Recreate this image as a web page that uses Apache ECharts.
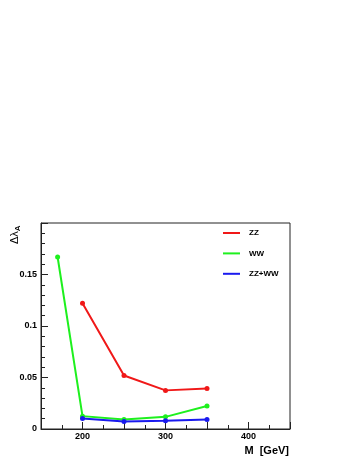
<!DOCTYPE html>
<html><head><meta charset="utf-8">
<script src="https://cdn.jsdelivr.net/npm/echarts@6/dist/echarts.min.js"></script>
<style>html,body{margin:0;padding:0;background:#fff}#c{width:358px;height:463px}</style>
</head><body><div id="c"></div>
<script>
const seriesNames = ['ZZ', 'WW', 'ZZ+WW'];
const zzX = [200, 250, 300, 350];
const zzY = [0.122, 0.052, 0.0375, 0.0394];
const wwX = [170, 200, 250, 300, 350];
const wwY = [0.167, 0.0125, 0.0092, 0.0118, 0.0224];
const bothX = [200, 250, 300, 350];
const bothY = [0.0102, 0.0073, 0.008, 0.0092];
const xLabels = [200, 300, 400];
const yLabels = [0, 0.05, 0.1, 0.15];
const colors = ['#f01818', '#1ef01e', '#1a1aef'];

const pair = (xs, ys) => xs.map((x, i) => [x, ys[i]]);
const font = 'Liberation Sans, Arial, sans-serif';
const chart = echarts.init(document.getElementById('c'), null, {renderer: 'canvas'});
const mk = (name, xs, ys, color) => ({
  name, type: 'line', data: pair(xs, ys), symbol: 'circle', symbolSize: 5,
  lineStyle: {color, width: 2}, itemStyle: {color}, animation: false
});
chart.setOption({
  animation: false,
  grid: {left: 41, top: 223, right: 68, bottom: 34, show: true, borderColor: '#222', borderWidth: 1},
  xAxis: {
    type: 'value', min: 150, max: 450, interval: 50,
    axisLine: {lineStyle: {color: '#222', width: 1}},
    axisTick: {inside: true, length: 7, lineStyle: {color: '#222'}},
    minorTick: {show: true, splitNumber: 2, length: 4, lineStyle: {color: '#222'}},
    splitLine: {show: false},
    axisLabel: {
      margin: 3, color: '#000', fontFamily: font, fontWeight: 'bold', fontSize: 9,
      formatter: v => xLabels.includes(v) ? String(v) : ''
    }
  },
  yAxis: {
    type: 'value', min: 0, max: 0.2, interval: 0.05,
    axisLine: {lineStyle: {color: '#222', width: 1}},
    axisTick: {inside: true, length: 7, lineStyle: {color: '#222'}},
    minorTick: {show: true, splitNumber: 5, length: 4, lineStyle: {color: '#222'}},
    splitLine: {show: false},
    axisLabel: {
      margin: 4, color: '#000', fontFamily: font, fontWeight: 'bold', fontSize: 9,
      formatter: v => {
        const m = yLabels.find(y => Math.abs(y - v) < 1e-9);
        return m === undefined ? '' : String(m);
      }
    }
  },
  legend: {
    orient: 'vertical', left: 223, top: 228, padding: 0, itemWidth: 17, itemHeight: 2, itemGap: 10.4,
    icon: 'rect', data: seriesNames,
    textStyle: {color: '#000', fontFamily: font, fontWeight: 'bold', fontSize: 8, lineHeight: 10, padding: [0, 0, 0, 4]}
  },
  graphic: [
    {type: 'text', x: 15, y: 244, rotation: Math.PI / 2,
     style: {text: '{a|Δλ}{b|A}', align: 'left', verticalAlign: 'middle',
       rich: {a: {fontFamily: font, fontSize: 11, fill: '#000'},
              b: {fontFamily: font, fontSize: 8, fontWeight: 'bold', fill: '#000', padding: [6, 0, 0, 0]}}}},
    {type: 'text', x: 289, y: 451,
     style: {text: 'M  [GeV]', align: 'right', verticalAlign: 'middle',
       fontFamily: font, fontSize: 11, fontWeight: 'bold', fill: '#000'}}
  ],
  series: [
    mk(seriesNames[0], zzX, zzY, colors[0]),
    mk(seriesNames[1], wwX, wwY, colors[1]),
    mk(seriesNames[2], bothX, bothY, colors[2])
  ]
});
</script></body></html>
